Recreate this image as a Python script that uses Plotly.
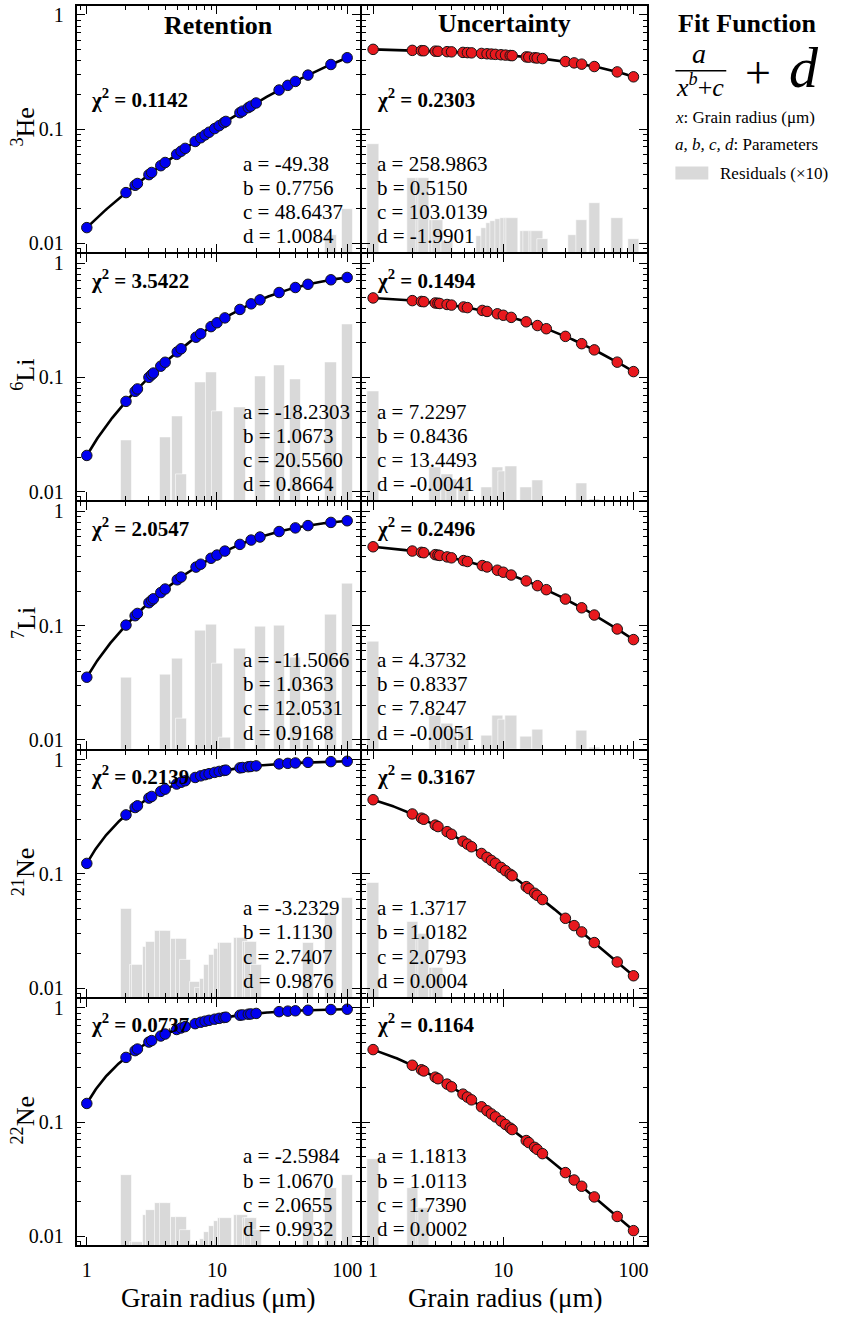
import numpy as np
import plotly.graph_objects as go

W, H = 841, 1318
SERIF = "Liberation Serif"

# ---------------------------------------------------------------- data
# grain radii (µm) simulated for each nuclide family
radius_he_ne = [1, 2, 2.35, 2.45, 3, 3.15, 3.7, 4, 4.9, 5.3, 5.7, 6.8, 7.5, 8.1, 8.7,
                9.6, 10.4, 11.3, 11.7, 15, 15.7, 17.4, 18.2, 20, 30, 35, 40, 50, 75, 100]
radius_li = [1, 2, 2.35, 2.45, 3, 3.15, 3.25, 3.7, 4, 4.95, 5.3, 6.9, 7.5, 9, 10,
             11.5, 15, 18.3, 21.4, 30, 40, 50, 75, 100]

nuclide_labels = ["<sup>3</sup>He", "<sup>6</sup>Li", "<sup>7</sup>Li",
                  "<sup>21</sup>Ne", "<sup>22</sup>Ne"]

# retention fraction per grain radius
retention_he3 = [0.01371, 0.02778, 0.0322, 0.0334, 0.0399, 0.0417, 0.0478, 0.0510, 0.0601, 0.0640,
                 0.0678, 0.0779, 0.0840, 0.0890, 0.0939, 0.1011, 0.1072, 0.1139, 0.1168, 0.1392,
                 0.1437, 0.1542, 0.1590, 0.1694, 0.2200, 0.2417, 0.2616, 0.2972, 0.3681, 0.4221]
retention_li6 = [0.0207, 0.0616, 0.0754, 0.0792, 0.1000, 0.1055, 0.1091, 0.1253, 0.1356, 0.1671,
                 0.1781, 0.2248, 0.2409, 0.2781, 0.3008, 0.3319, 0.3935, 0.4406, 0.4773, 0.5536,
                 0.6126, 0.6535, 0.7156, 0.7502]
retention_li7 = [0.0353, 0.1010, 0.1220, 0.1278, 0.1586, 0.1666, 0.1718, 0.1946, 0.2091, 0.2517,
                 0.2662, 0.3254, 0.3450, 0.3890, 0.4149, 0.4495, 0.5145, 0.5616, 0.5969, 0.6667,
                 0.7177, 0.7517, 0.8015, 0.8285]
retention_ne21 = [0.1234, 0.3283, 0.3809, 0.3946, 0.4608, 0.4766, 0.5277, 0.5519, 0.6120, 0.6339,
                  0.6536, 0.6985, 0.7217, 0.7389, 0.7542, 0.7741, 0.7892, 0.8039, 0.8099, 0.8477,
                  0.8539, 0.8669, 0.8722, 0.8826, 0.9185, 0.9289, 0.9366, 0.9475, 0.9617, 0.9687]
retention_ne22 = [0.1456, 0.3687, 0.4227, 0.4365, 0.5025, 0.5179, 0.5677, 0.5907, 0.6475, 0.6681,
                  0.6864, 0.7280, 0.7492, 0.7650, 0.7789, 0.7969, 0.8106, 0.8240, 0.8294, 0.8636,
                  0.8691, 0.8809, 0.8857, 0.8952, 0.9278, 0.9373, 0.9444, 0.9545, 0.9678, 0.9744]

# relative uncertainty per grain radius
uncertainty_he3 = [0.4998, 0.4896, 0.4867, 0.4859, 0.4817, 0.4807, 0.4770, 0.4751, 0.4699, 0.4677,
                   0.4656, 0.4601, 0.4569, 0.4543, 0.4517, 0.4481, 0.4450, 0.4417, 0.4402, 0.4292,
                   0.4271, 0.4220, 0.4198, 0.4148, 0.3908, 0.3804, 0.3708, 0.3534, 0.3171, 0.2871]
uncertainty_li6 = [0.4963, 0.4702, 0.4622, 0.4600, 0.4484, 0.4455, 0.4435, 0.4350, 0.4296, 0.4137,
                   0.4083, 0.3856, 0.3780, 0.3605, 0.3499, 0.3353, 0.3066, 0.2844, 0.2667, 0.2286,
                   0.1972, 0.1741, 0.1359, 0.1123]
uncertainty_li7 = [0.4905, 0.4501, 0.4383, 0.4351, 0.4185, 0.4143, 0.4116, 0.3998, 0.3924, 0.3713,
                   0.3642, 0.3358, 0.3265, 0.3057, 0.2935, 0.2773, 0.2464, 0.2237, 0.2064, 0.1708,
                   0.1432, 0.1238, 0.0934, 0.0754]
uncertainty_ne21 = [0.4459, 0.3346, 0.3075, 0.3006, 0.2673, 0.2594, 0.2342, 0.2223, 0.1930, 0.1822,
                    0.1727, 0.1508, 0.1395, 0.1311, 0.1237, 0.1139, 0.1065, 0.0992, 0.0962, 0.0773,
                    0.0742, 0.0676, 0.0649, 0.0595, 0.0408, 0.0352, 0.0310, 0.0250, 0.0169, 0.0128]
uncertainty_ne22 = [0.4315, 0.3148, 0.2875, 0.2805, 0.2475, 0.2398, 0.2152, 0.2038, 0.1758, 0.1656,
                    0.1566, 0.1362, 0.1257, 0.1179, 0.1111, 0.1021, 0.0953, 0.0887, 0.0860, 0.0689,
                    0.0661, 0.0601, 0.0577, 0.0529, 0.0361, 0.0311, 0.0274, 0.0221, 0.0149, 0.0112]

# |residual| x 10 of each fit
resid_ret_he3 = [0, 0, 0, 0, 0, 0, 0, 0, 0, 0, 0, 0, 0, 0, 0, 0, 0, 0, 0, 0,
                 0, 0, 0, 0, 0, 0, 0, 0, 0.0119, 0.0201]
resid_unc_he3 = [0.074, 0.037, 0.037, 0.037, 0.016, 0.016, 0.0105, 0, 0, 0, 0, 0.0115, 0.0135,
                 0.015, 0.0158, 0.0163, 0.0166, 0.0166, 0.0165, 0.0127, 0.0127, 0.0127, 0.0127,
                 0.011, 0, 0.0119, 0.016, 0.0225, 0.0166, 0.011]
resid_ret_li6 = [0, 0.028, 0, 0, 0, 0, 0, 0, 0.030, 0.046, 0.0143, 0, 0.090, 0.112, 0.050, 0,
                 0.055, 0, 0.102, 0.129, 0.097, 0, 0.135, 0.29]
resid_unc_li6 = [0.075, 0, 0, 0, 0.0163, 0, 0, 0.0143, 0.0129, 0.0129, 0, 0, 0.0109, 0.0163,
                 0.0152, 0.0166, 0.0108, 0.0125, 0, 0, 0.0119, 0.0086, 0, 0]
resid_ret_li7 = [0, 0.035, 0, 0, 0, 0, 0, 0, 0.037, 0.052, 0.0155, 0, 0.091, 0.103, 0.047,
                 0.0105, 0.063, 0, 0.098, 0.101, 0.053, 0.010, 0.124, 0.233]
resid_unc_li7 = [0.0733, 0, 0, 0, 0.0162, 0, 0, 0.014, 0.0126, 0.0126, 0, 0, 0.0108, 0.0162,
                 0.015, 0.0162, 0.0107, 0.0122, 0, 0, 0.012, 0.0085, 0, 0]
resid_ret_ne21 = [0, 0.049, 0.016, 0.016, 0.023, 0.0255, 0.032, 0.032, 0.027, 0.027, 0.0177,
                  0.0114, 0.010, 0.012, 0.016, 0.0195, 0.022, 0.0247, 0.0247, 0.0277, 0.0277,
                  0.0255, 0.0255, 0.016, 0, 0, 0, 0.025, 0.046, 0.062]
resid_unc_ne21 = [0.084, 0.038, 0.030, 0.030, 0.015, 0.015, 0, 0, 0, 0, 0, 0, 0, 0, 0,
                  0, 0, 0, 0, 0, 0, 0, 0, 0, 0, 0, 0, 0, 0, 0]
resid_ret_ne22 = [0, 0.0346, 0.0089, 0.0089, 0.0155, 0.017, 0.0195, 0.0195, 0.0147, 0.0147,
                  0.0114, 0.0085, 0.0085, 0.0095, 0.011, 0.0122, 0.0135, 0.0145, 0.0145, 0.0153,
                  0.0153, 0.0145, 0.0145, 0.0114, 0, 0, 0, 0.0165, 0.0266, 0.0346]
resid_unc_ne22 = [0.0473, 0.0264, 0.0177, 0.0177, 0, 0, 0, 0, 0, 0, 0, 0, 0, 0, 0,
                  0, 0, 0, 0, 0, 0, 0, 0, 0, 0, 0, 0, 0, 0, 0]

# fitted parameters (a, b, c, d) and chi-square of each fit
params_ret = [(-49.38, 0.7756, 48.6437, 1.0084), (-18.2303, 1.0673, 20.5560, 0.8664),
              (-11.5066, 1.0363, 12.0531, 0.9168), (-3.2329, 1.1130, 2.7407, 0.9876),
              (-2.5984, 1.0670, 2.0655, 0.9932)]
params_unc = [(258.9863, 0.5150, 103.0139, -1.9901), (7.2297, 0.8436, 13.4493, -0.0041),
              (4.3732, 0.8337, 7.8247, -0.0051), (1.3717, 1.0182, 2.0793, 0.0004),
              (1.1813, 1.0113, 1.7390, 0.0002)]
param_text_ret = [("-49.38", "0.7756", "48.6437", "1.0084"),
                  ("-18.2303", "1.0673", "20.5560", "0.8664"),
                  ("-11.5066", "1.0363", "12.0531", "0.9168"),
                  ("-3.2329", "1.1130", "2.7407", "0.9876"),
                  ("-2.5984", "1.0670", "2.0655", "0.9932")]
param_text_unc = [("258.9863", "0.5150", "103.0139", "-1.9901"),
                  ("7.2297", "0.8436", "13.4493", "-0.0041"),
                  ("4.3732", "0.8337", "7.8247", "-0.0051"),
                  ("1.3717", "1.0182", "2.0793", "0.0004"),
                  ("1.1813", "1.0113", "1.7390", "0.0002")]
chi2_ret = ["0.1142", "3.5422", "2.0547", "0.2139", "0.0737"]
chi2_unc = ["0.2303", "0.1494", "0.2496", "0.3167", "0.1164"]

radii = [radius_he_ne, radius_li, radius_li, radius_he_ne, radius_he_ne]
retention = [retention_he3, retention_li6, retention_li7, retention_ne21, retention_ne22]
uncertainty = [uncertainty_he3, uncertainty_li6, uncertainty_li7, uncertainty_ne21, uncertainty_ne22]
resid_ret = [resid_ret_he3, resid_ret_li6, resid_ret_li7, resid_ret_ne21, resid_ret_ne22]
resid_unc = [resid_unc_he3, resid_unc_li6, resid_unc_li7, resid_unc_ne21, resid_unc_ne22]

# ---------------------------------------------------------------- layout geometry (px)
LW = 2                                   # frame line width
COL_X = [(77, 361), (363, 649)]          # inner plot area of each column
ONE_PX = [87, 374]                       # pixel of x = 1 in each column
DEC_X = 130.5                            # px per decade along x
ROW_TOP = [4, 253, 502, 751, 1000]
ROW_H = 247
DEC_Y = 114.5                            # px per decade along y
Y_RANGE = [-(ROW_H - 9) / DEC_Y, 9 / DEC_Y]
BLUE, RED = "#0000f0", "#e8191e"
BAR_GREY = "#d9d9d9"
HALF_LOG_W = 0.043  # half bar width in decades


def px(x, y):
    return x / W, 1 - y / H


def fit_fn(x, a, b, c, d):
    return a / (x ** b + c) + d


fig = go.Figure()
annotations = []
shapes = []

minor_x = [0.9] + [k for k in range(2, 10)] + [10 * k for k in range(2, 10)]
minor_y = [0.009] + [k / 100 for k in range(2, 10)] + [k / 10 for k in range(2, 10)]

for r in range(5):
    for c in range(2):
        n = r * 2 + 1 + c
        xs = np.array(radii[r], dtype=float)
        ys = retention[r] if c == 0 else uncertainty[r]
        res = np.array(resid_ret[r] if c == 0 else resid_unc[r], dtype=float)
        a, b, cc, d = params_ret[r] if c == 0 else params_unc[r]
        xa, ya = f"x{n}", f"y{n}"

        # residual bars (symmetric in log space)
        keep = res > 0
        bx = xs[keep]
        lo = bx * 10 ** (-HALF_LOG_W)
        hi = bx * 10 ** HALF_LOG_W
        fig.add_trace(go.Bar(
            x=bx, y=res[keep], offset=lo - bx, width=hi - lo,
            marker=dict(color=BAR_GREY, line=dict(color="white", width=0.6)),
            xaxis=xa, yaxis=ya, showlegend=False, hoverinfo="skip"))

        # fitted curve
        xf = np.geomspace(1, 100, 300)
        fig.add_trace(go.Scatter(
            x=xf, y=fit_fn(xf, a, b, cc, d), mode="lines",
            line=dict(color="black", width=2.6),
            xaxis=xa, yaxis=ya, showlegend=False, hoverinfo="skip"))

        # data points
        fig.add_trace(go.Scatter(
            x=xs, y=ys, mode="markers",
            marker=dict(size=10.5, color=BLUE if c == 0 else RED,
                        line=dict(color="#151515", width=1)),
            xaxis=xa, yaxis=ya, showlegend=False))

        x0, x1 = COL_X[c]
        x_range = [-(ONE_PX[c] - x0) / DEC_X, (x1 - ONE_PX[c]) / DEC_X]
        top = ROW_TOP[r]
        axis_common = dict(
            type="log", showline=True, linecolor="black", linewidth=LW,
            mirror="ticks", ticks="inside", tickcolor="black", tickwidth=1.3,
            ticklen=8, showgrid=False, zeroline=False,
            tickfont=dict(family=SERIF, size=20, color="black"),
        )
        fig.layout[f"xaxis{n}"] = dict(
            axis_common, domain=[x0 / W, x1 / W], anchor=ya, range=x_range,
            tickvals=[1, 10, 100], ticktext=["1", "10", "100"],
            showticklabels=(r == 4), ticklabelstandoff=6,
            minor=dict(tickvals=minor_x, ticks="inside", ticklen=4,
                       tickwidth=1.1, tickcolor="black", showgrid=False))
        fig.layout[f"yaxis{n}"] = dict(
            axis_common, domain=[1 - (top + ROW_H) / H, 1 - top / H], anchor=xa,
            range=Y_RANGE, tickvals=[0.01, 0.1, 1], ticktext=["0.01", "0.1", "1"],
            showticklabels=(c == 0), ticklabelstandoff=7,
            minor=dict(tickvals=minor_y, ticks="inside", ticklen=4,
                       tickwidth=1.1, tickcolor="black", showgrid=False))

        # chi-square label
        tx = 89 if c == 0 else 376
        ty = top + (93 if r == 0 else 25)
        ax_, ay_ = px(tx, ty)
        chi = chi2_ret[r] if c == 0 else chi2_unc[r]
        annotations.append(dict(
            x=ax_, y=ay_, xref="paper", yref="paper", xanchor="left", yanchor="middle",
            text=f"<b>χ<sup>2</sup> = {chi}</b>", showarrow=False,
            font=dict(family=SERIF, size=21, color="black")))

        # parameter block
        ptxt = param_text_ret[r] if c == 0 else param_text_unc[r]
        px0 = 242 if c == 0 else 376
        for i, (name, val) in enumerate(zip("abcd", ptxt)):
            ax_, ay_ = px(px0, top + 158 + 24.3 * i)
            annotations.append(dict(
                x=ax_, y=ay_, xref="paper", yref="paper", xanchor="left", yanchor="middle",
                text=f"{name} = {val}", showarrow=False,
                font=dict(family=SERIF, size=21, color="black")))

    # nuclide label
    ax_, ay_ = px(24, ROW_TOP[r] + 121)
    annotations.append(dict(
        x=ax_, y=ay_, xref="paper", yref="paper", xanchor="center", yanchor="middle",
        text=nuclide_labels[r], textangle=-90, showarrow=False,
        font=dict(family=SERIF, size=26, color="black")))

# column headers and x titles
for cx, title, ty in [(219, "Retention", 24), (506, "Uncertainty", 22)]:
    ax_, ay_ = px(cx, ty)
    annotations.append(dict(x=ax_, y=ay_, xref="paper", yref="paper", showarrow=False,
                            text=f"<b>{title}</b>", xanchor="center", yanchor="middle",
                            font=dict(family=SERIF, size=26, color="black")))
for cx in (219, 506):
    ax_, ay_ = px(cx, 1300)
    annotations.append(dict(x=ax_, y=ay_, xref="paper", yref="paper", showarrow=False,
                            text="Grain radius (μm)", xanchor="center", yanchor="middle",
                            font=dict(family=SERIF, size=27, color="black")))

# fit function legend
legend_items = [
    ((749, 22), "<b>Fit Function</b>", 26, "center", "middle"),
    ((701, 68), "<i>a</i>", 28, "center", "bottom"),
    ((702, 66), "<i>x</i><sup><i>b</i></sup>+<i>c</i>", 26, "center", "top"),
    ((760, 71), "+", 46, "center", "middle"),
    ((806, 66), "<i>d</i>", 58, "center", "middle"),
    ((676, 116), "<i>x</i>: Grain radius (μm)", 17, "left", "middle"),
    ((676, 143), "<i>a, b, c, d</i>: Parameters", 17, "left", "middle"),
    ((721, 172), "Residuals (×10)", 17, "left", "middle"),
]
for (lx, ly), txt, size, anchor, vanchor in legend_items:
    ax_, ay_ = px(lx, ly)
    annotations.append(dict(x=ax_, y=ay_, xref="paper", yref="paper", showarrow=False,
                            text=txt, xanchor=anchor, yanchor=vanchor, borderpad=0,
                            font=dict(family=SERIF, size=size, color="black")))

fx0, fy0 = px(677, 69)
fx1, _ = px(728, 69)
shapes.append(dict(type="line", xref="paper", yref="paper", x0=fx0, x1=fx1, y0=fy0, y1=fy0,
                   line=dict(color="black", width=1.5)))
rx0, ry0 = px(677, 165)
rx1, ry1 = px(710, 178)
shapes.append(dict(type="rect", xref="paper", yref="paper", x0=rx0, x1=rx1, y0=ry1, y1=ry0,
                   fillcolor=BAR_GREY, line=dict(width=0)))

fig.update_layout(
    width=W, height=H, margin=dict(l=0, r=0, t=0, b=0),
    paper_bgcolor="white", plot_bgcolor="white",
    barmode="overlay", bargap=0,
    annotations=annotations, shapes=shapes,
    font=dict(family=SERIF, color="black"),
)

fig.write_html("out.html")
